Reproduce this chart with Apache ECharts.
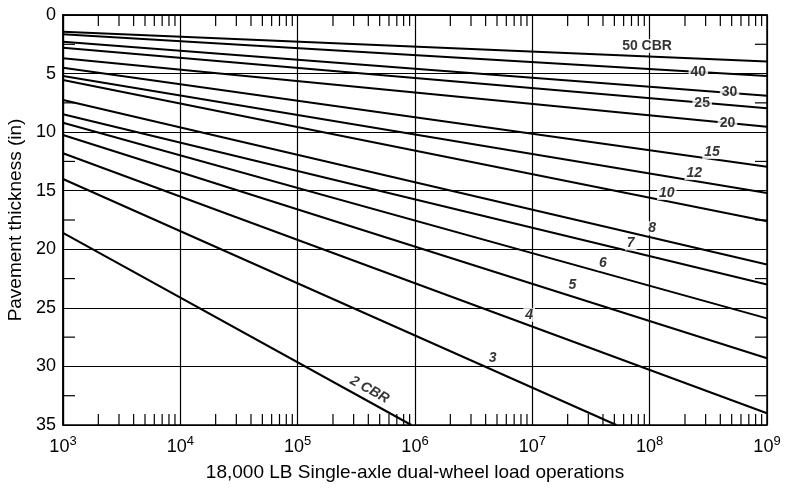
<!DOCTYPE html>
<html>
<head>
<meta charset="utf-8">
<script src="https://cdn.jsdelivr.net/npm/echarts@6/dist/echarts.min.js"></script>
<style>
html,body{margin:0;padding:0;background:#fff;}
#c{width:787px;height:488px;}
</style>
</head>
<body>
<div id="c"></div>
<script>
// CBR curves: thickness (in) at 10^3 operations and end point of each line
const cbrValues   = [50, 40, 30, 25, 20, 15, 12, 10, 8, 7, 6, 5, 4, 3, 2];
const startOps    = [1e3, 1e3, 1e3, 1e3, 1e3, 1e3, 1e3, 1e3, 1e3, 1e3, 1e3, 1e3, 1e3, 1e3, 1e3];
const startThick  = [1.42, 1.65, 2.28, 2.79, 3.70, 4.5, 5.2, 5.55, 7.26, 8.48, 9.2, 10.25, 11.8, 14.0, 18.6];
const endOps      = [1e9, 1e9, 1e9, 1e9, 1e9, 1e9, 1e9, 1e9, 1e9, 1e9, 1e9, 1e9, 1e9, 5.2e7, 9.3e5];
const endThick    = [3.98, 5.2, 6.9, 7.97, 9.53, 12.95, 15.2, 17.6, 21.3, 23.0, 25.9, 29.3, 34.0, 35, 35];

// curve labels
const labelText  = ['50 CBR', '40', '30', '25', '20', '15', '12', '10', '8', '7', '6', '5', '4', '3', '2 CBR'];
const labelOps   = [9.5e7, 2.6e8, 4.8e8, 2.8e8, 4.6e8, 3.4e8, 2.4e8, 1.4e8, 1.05e8, 6.9e7, 4.0e7, 2.2e7, 9.4e6, 4.6e6, 4.1e5];
const labelThick = [2.65, 4.87, 6.57, 7.51, 9.22, 11.7, 13.5, 15.2, 18.2, 19.5, 21.2, 23.1, 25.6, 29.3, 32.0];
const labelItalic= [false, false, false, false, false, true, true, true, true, true, true, true, true, true, true];

// axis ticks
const yTicks = [0, 5, 10, 15, 20, 25, 30, 35];
const yMinorTicks = [2.5, 7.5, 12.5, 17.5, 22.5, 27.5, 32.5];
const decades = [1e3, 1e4, 1e5, 1e6, 1e7, 1e8];
const minorMultipliers = [2, 3, 4, 5, 6, 7, 8, 9];
const X_MIN = 1e3, X_MAX = 1e9, Y_MIN = 0, Y_MAX = 35;
const TOP_TICK_LEN = 0.94; // tick length expressed along the thickness axis

const xMinorTicks = [];
decades.forEach(d => minorMultipliers.forEach(m => xMinorTicks.push(d * m)));

const chart = echarts.init(document.getElementById('c'), null, {renderer: 'canvas'});
const FONT = 'Liberation Sans, Arial, Helvetica, sans-serif';

const series = cbrValues.map((c, i) => ({
  type: 'line',
  name: 'CBR ' + c,
  data: [[startOps[i], startThick[i]], [endOps[i], endThick[i]]],
  showSymbol: false,
  symbol: 'none',
  lineStyle: {color: '#000', width: 2},
  z: 3,
  silent: true
}));

// minor ticks (inside the frame) drawn through the axis scales
function tickSeries(data, dx, dy) {
  return {
    type: 'custom',
    data: data,
    silent: true,
    z: 4,
    clip: false,
    renderItem: function (params, api) {
      const p = api.coord([api.value(0), api.value(1)]);
      return {
        type: 'line',
        shape: {x1: p[0], y1: p[1], x2: p[0] + dx, y2: p[1] + dy},
        style: {stroke: '#000', lineWidth: 1.2}
      };
    }
  };
}
series.push(tickSeries(xMinorTicks.map(v => [v, Y_MAX]), 0, -11));
series.push(tickSeries(yMinorTicks.map(v => [X_MIN, v]), 12, 0));
series.push(tickSeries(yMinorTicks.map(v => [X_MAX, v]), -12, 0));
// top minor ticks as short line segments
xMinorTicks.forEach(v => {
  series.push({
    type: 'line',
    data: [[v, Y_MIN], [v, Y_MIN + TOP_TICK_LEN]],
    showSymbol: false,
    symbol: 'none',
    lineStyle: {color: '#000', width: 1.2},
    z: 4,
    silent: true
  });
});

series.push({
  type: 'scatter',
  data: labelText.map((t, i) => ({
    value: [labelOps[i], labelThick[i]],
    label: {
      formatter: t,
      fontStyle: labelItalic[i] ? 'italic' : 'normal',
      rotate: i === 14 ? -29 : 0
    }
  })),
  symbolSize: 0,
  label: {
    show: true,
    position: 'inside',
    color: '#000',
    fontSize: 14,
    fontWeight: 'bold',
    fontFamily: FONT,
    backgroundColor: '#fff',
    padding: [0, 2]
  },
  z: 10,
  silent: true
});

chart.setOption({
  animation: false,
  backgroundColor: '#fff',
  grid: {
    left: 63, right: 20, top: 15, bottom: 63,
    containLabel: false, outerBoundsMode: 'none',
    show: true, borderColor: '#000', borderWidth: 1.5, backgroundColor: 'rgba(0,0,0,0)'
  },
  xAxis: {
    type: 'log',
    logBase: 10,
    min: X_MIN,
    max: X_MAX,
    position: 'bottom',
    name: '18,000 LB Single-axle dual-wheel load operations',
    nameLocation: 'middle',
    nameGap: 38,
    nameTextStyle: {color: '#000', fontSize: 19, fontFamily: FONT},
    axisLine: {show: true, lineStyle: {color: '#000', width: 1.5}},
    axisTick: {show: false},
    axisLabel: {
      color: '#000',
      margin: 10,
      formatter: v => '{b|10}{s|' + Math.round(Math.log10(v)) + '}',
      rich: {
        b: {fontSize: 18, fontFamily: FONT, color: '#000', verticalAlign: 'bottom'},
        s: {fontSize: 13, fontFamily: FONT, color: '#000', verticalAlign: 'top', padding: [0, 0, 8, 0]}
      }
    },
    splitLine: {show: true, lineStyle: {color: '#000', width: 1.2}}
  },
  yAxis: {
    type: 'value',
    inverse: true,
    min: Y_MIN,
    max: Y_MAX,
    interval: 5,
    position: 'left',
    name: 'Pavement thickness (in)',
    nameLocation: 'middle',
    nameGap: 38,
    nameTextStyle: {color: '#000', fontSize: 19, fontFamily: FONT},
    axisLine: {show: true, lineStyle: {color: '#000', width: 1.5}},
    axisTick: {show: false},
    axisLabel: {
      color: '#000', fontSize: 18, fontFamily: FONT, margin: 7,
      formatter: v => (yTicks.indexOf(v) >= 0 ? String(v) : '')
    },
    splitLine: {show: true, lineStyle: {color: '#000', width: 1}}
  },
  series: series
});
</script>
</body>
</html>
